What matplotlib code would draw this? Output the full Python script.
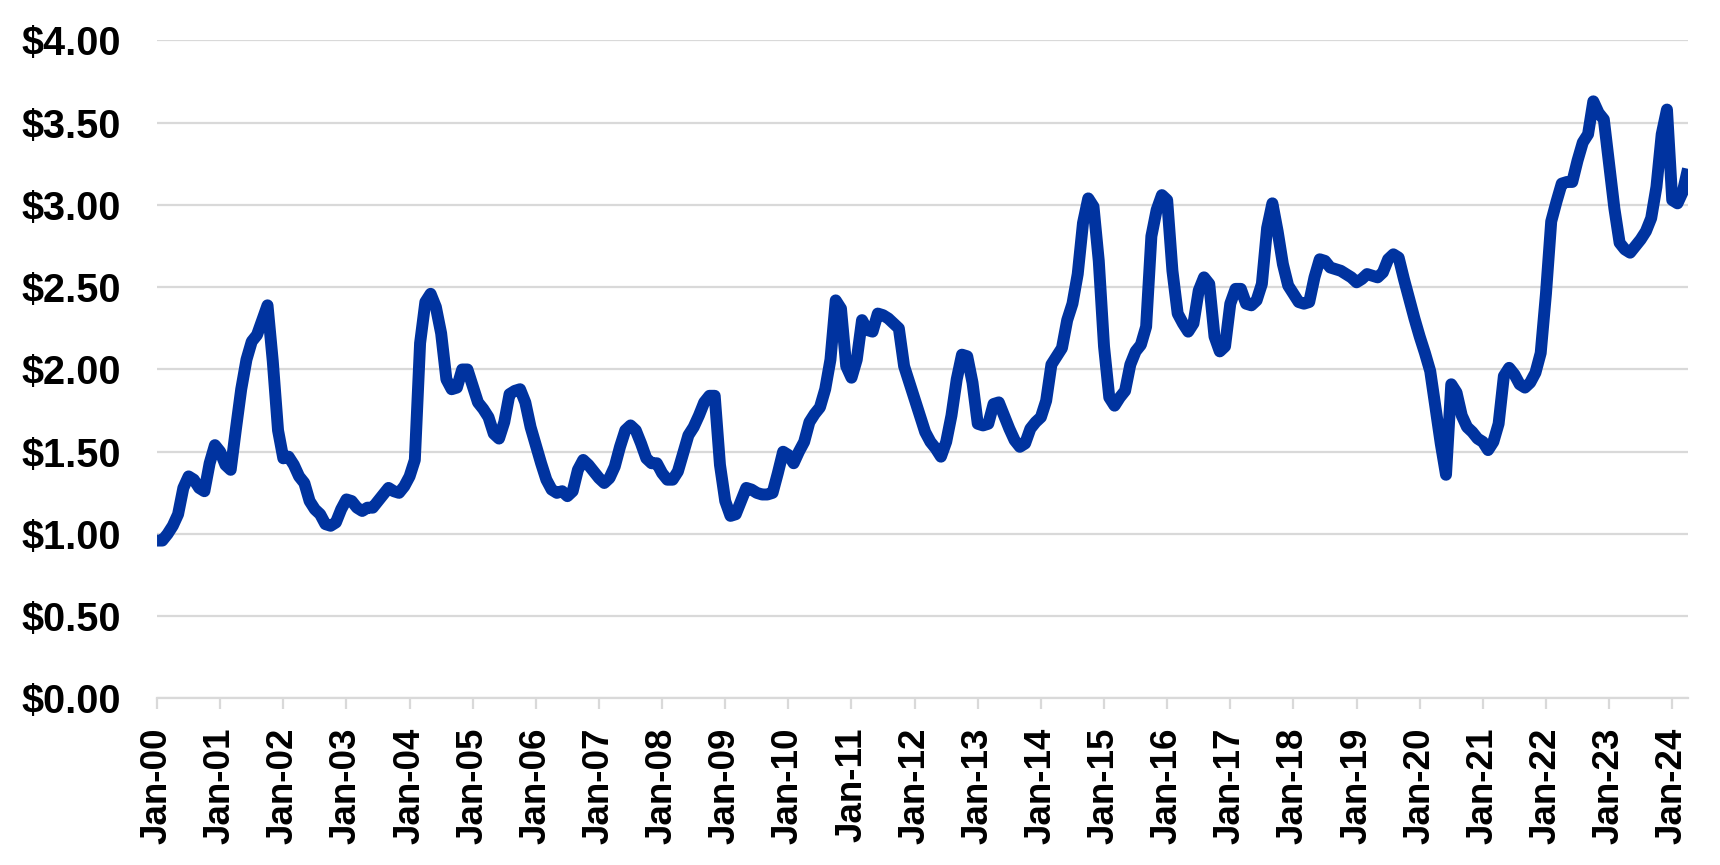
import matplotlib
matplotlib.use("Agg")
import matplotlib.pyplot as plt
import numpy as np

# monthly price, Jan-2000 .. Apr-2024
y2000 = [0.96, 0.96, 1.00, 1.05, 1.12, 1.28, 1.35, 1.33, 1.28, 1.26, 1.43, 1.54]
y2001 = [1.50, 1.42, 1.39, 1.64, 1.88, 2.06, 2.17, 2.21, 2.30, 2.39, 2.05, 1.63]
y2002 = [1.46, 1.47, 1.42, 1.35, 1.31, 1.20, 1.15, 1.12, 1.06, 1.05, 1.07, 1.15]
y2003 = [1.21, 1.20, 1.16, 1.14, 1.16, 1.16, 1.20, 1.24, 1.28, 1.26, 1.25, 1.29]
y2004 = [1.35, 1.45, 2.16, 2.41, 2.46, 2.38, 2.22, 1.94, 1.88, 1.89, 2.00, 2.00]
y2005 = [1.90, 1.80, 1.76, 1.71, 1.61, 1.58, 1.68, 1.85, 1.87, 1.88, 1.80, 1.65]
y2006 = [1.54, 1.43, 1.33, 1.27, 1.25, 1.26, 1.23, 1.26, 1.39, 1.45, 1.42, 1.38]
y2007 = [1.34, 1.31, 1.34, 1.41, 1.53, 1.63, 1.66, 1.63, 1.55, 1.46, 1.43, 1.43]
y2008 = [1.37, 1.33, 1.33, 1.38, 1.49, 1.60, 1.65, 1.72, 1.80, 1.84, 1.84, 1.42]
y2009 = [1.20, 1.11, 1.12, 1.20, 1.28, 1.27, 1.25, 1.24, 1.24, 1.25, 1.37, 1.50]
y2010 = [1.48, 1.43, 1.50, 1.56, 1.68, 1.73, 1.77, 1.88, 2.06, 2.42, 2.37, 2.02]
y2011 = [1.95, 2.06, 2.30, 2.24, 2.23, 2.34, 2.33, 2.31, 2.28, 2.25, 2.02, 1.92]
y2012 = [1.82, 1.72, 1.62, 1.56, 1.52, 1.47, 1.56, 1.72, 1.94, 2.09, 2.08, 1.92]
y2013 = [1.67, 1.66, 1.67, 1.79, 1.80, 1.72, 1.64, 1.57, 1.53, 1.55, 1.64, 1.68]
y2014 = [1.71, 1.81, 2.03, 2.08, 2.13, 2.30, 2.40, 2.58, 2.89, 3.04, 2.99, 2.66]
y2015 = [2.14, 1.83, 1.78, 1.83, 1.87, 2.03, 2.11, 2.15, 2.26, 2.81, 2.97, 3.06]
y2016 = [3.03, 2.60, 2.34, 2.28, 2.23, 2.28, 2.48, 2.56, 2.52, 2.20, 2.11, 2.14]
y2017 = [2.40, 2.49, 2.49, 2.40, 2.39, 2.42, 2.52, 2.86, 3.01, 2.84, 2.64, 2.51]
y2018 = [2.46, 2.41, 2.40, 2.41, 2.56, 2.67, 2.66, 2.62, 2.61, 2.60, 2.58, 2.56]
y2019 = [2.53, 2.55, 2.58, 2.57, 2.56, 2.59, 2.67, 2.70, 2.68, 2.55, 2.43, 2.31]
y2020 = [2.20, 2.10, 1.99, 1.77, 1.55, 1.36, 1.91, 1.86, 1.72, 1.65, 1.62, 1.58]
y2021 = [1.56, 1.51, 1.56, 1.67, 1.96, 2.01, 1.97, 1.91, 1.89, 1.92, 1.98, 2.10]
y2022 = [2.46, 2.90, 3.02, 3.13, 3.14, 3.14, 3.27, 3.38, 3.43, 3.63, 3.56, 3.52]
y2023 = [3.25, 2.98, 2.77, 2.73, 2.71, 2.75, 2.79, 2.84, 2.92, 3.11, 3.43, 3.58]
y2024 = [3.03, 3.01, 3.08, 3.22]

prices = (y2000 + y2001 + y2002 + y2003 + y2004 + y2005 + y2006 + y2007 + y2008
          + y2009 + y2010 + y2011 + y2012 + y2013 + y2014 + y2015 + y2016 + y2017
          + y2018 + y2019 + y2020 + y2021 + y2022 + y2023 + y2024)
months = np.arange(len(prices))

tick_labels = ["Jan-%02d" % yy for yy in range(0, 25)]
y_ticks = [0, 0.5, 1.0, 1.5, 2.0, 2.5, 3.0, 3.5, 4.0]

plt.rcParams['font.family'] = ['Liberation Sans', 'DejaVu Sans']
grid_col = '#d9d9d9'

fig = plt.figure(figsize=(17.2, 8.65), dpi=100)
ax = fig.add_axes([0.0913, 0.1925, 0.8901, 0.7607])

ax.plot(months, prices, color='#0033a0', linewidth=8.6,
        solid_joinstyle='round', solid_capstyle='butt', zorder=3)

ax.set_xlim(0, len(prices) - 1)
ax.set_ylim(0, 4.0)
ax.set_yticks(y_ticks)
ax.set_yticklabels(["$%.2f" % v for v in y_ticks], fontsize=28.5, fontweight='bold')
ax.set_xticks(np.arange(0, len(prices), 12))
ax.set_xticklabels(tick_labels, rotation=90, fontsize=26.5, fontweight='bold')

ax.grid(axis='y', color=grid_col, linewidth=1.6, zorder=0)
ax.tick_params(axis='y', length=0, pad=26)
ax.tick_params(axis='x', length=8, width=1.6, color=grid_col, pad=13, direction='out')
for side in ['top', 'right', 'left']:
    ax.spines[side].set_visible(False)
ax.spines['bottom'].set_color(grid_col)
ax.spines['bottom'].set_linewidth(1.6)

fig.savefig('out.png', dpi=100)
